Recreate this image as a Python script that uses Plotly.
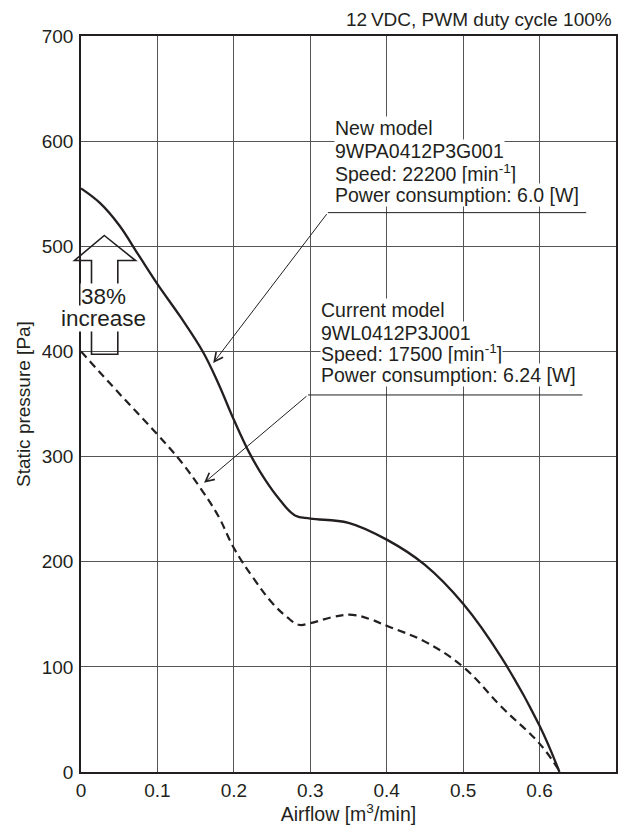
import plotly.graph_objects as go

# ---- data ----
airflow_new = [0, 0.025, 0.05, 0.075, 0.1, 0.13, 0.16, 0.18, 0.2, 0.22, 0.24, 0.26, 0.28, 0.3,
               0.35, 0.4, 0.45, 0.5, 0.55, 0.6, 0.626]
pressure_new = [555, 541, 520, 492, 464, 433, 399, 369, 335, 304, 279, 259, 244, 241,
                237, 221, 197, 160, 109, 44, 0]

airflow_cur = [0, 0.05, 0.1, 0.13, 0.16, 0.18, 0.2, 0.225, 0.25, 0.27, 0.285, 0.3, 0.33, 0.355, 0.38,
               0.4, 0.45, 0.5, 0.55, 0.6, 0.627]
pressure_cur = [400, 360, 321, 296, 266, 243, 213, 185, 161, 147, 140, 141.5, 147.5, 149.5, 145,
                139, 124, 100, 62, 27, 0]

x_ticks = [0, 0.1, 0.2, 0.3, 0.4, 0.5, 0.6, 0.7]
x_ticklabels = ["0", "0.1", "0.2", "0.3", "0.4", "0.5", "0.6", "0.7"]
y_ticks = [0, 100, 200, 300, 400, 500, 600, 700]

new_lines = ["New model", "9WPA0412P3G001", "Speed: 22200 [min<sup>-1</sup>]", "Power consumption: 6.0 [W]"]
cur_lines = ["Current model", "9WL0412P3J001", "Speed: 17500 [min<sup>-1</sup>]", "Power consumption: 6.24 [W]"]

INK = "#231f20"
FONT = "Liberation Sans, Arial, Helvetica, sans-serif"

W, H = 629, 827
ML, MR, MT, MB = 81, 13, 36, 55
PW, PH = W - ML - MR, H - MT - MB


def px2paper(px, py):
    return (px - ML) / PW, (H - MB - py) / PH


fig = go.Figure()
fig.add_trace(go.Scatter(x=airflow_cur, y=pressure_cur, mode="lines",
                         line=dict(color=INK, width=2.2, dash="8px,5px", shape="spline", smoothing=1.1),
                         showlegend=False, hoverinfo="skip"))
fig.add_trace(go.Scatter(x=airflow_new, y=pressure_new, mode="lines",
                         line=dict(color=INK, width=2.3, shape="spline", smoothing=1.1),
                         showlegend=False, hoverinfo="skip"))

annotations = []
shapes = []

# top condition text
annotations.append(dict(text="12\u2009VDC, PWM duty cycle 100%", x=1, y=1, xref="paper", yref="paper",
                        xanchor="right", yanchor="bottom", yshift=4, xshift=-2, showarrow=False,
                        font=dict(size=19, color=INK, family=FONT)))

# model info texts (each line its own white box)
new_y = [612.5, 591, 569.5, 548.5]
for t, yy in zip(new_lines, new_y):
    annotations.append(dict(text=t, x=0.331, y=yy, xref="x", yref="y", xanchor="left", yanchor="middle",
                            showarrow=False, bgcolor="white", borderpad=0,
                            font=dict(size=19.5, color=INK, family=FONT)))
cur_y = [439.4, 417.8, 398.5, 377.6]
for t, yy in zip(cur_lines, cur_y):
    annotations.append(dict(text=t, x=0.3125, y=yy, xref="x", yref="y", xanchor="left", yanchor="middle",
                            showarrow=False, bgcolor="white", borderpad=0,
                            font=dict(size=19.5, color=INK, family=FONT)))

# leader lines
shapes.append(dict(type="line", x0=0.323, y0=532, x1=0.661, y1=532, xref="x", yref="y",
                   line=dict(color=INK, width=1)))
shapes.append(dict(type="line", x0=0.297, y0=358.6, x1=0.656, y1=358.6, xref="x", yref="y",
                   line=dict(color=INK, width=1)))
annotations.append(dict(text="", x=0.173, y=389, ax=0.323, ay=532, xref="x", yref="y", axref="x", ayref="y",
                        showarrow=True, arrowhead=5, arrowsize=1.7, arrowwidth=1, arrowcolor=INK,
                        standoff=0, startstandoff=0))
annotations.append(dict(text="", x=0.161, y=275, ax=0.297, ay=358.6, xref="x", yref="y", axref="x", ayref="y",
                        showarrow=True, arrowhead=5, arrowsize=1.7, arrowwidth=1, arrowcolor=INK,
                        standoff=0, startstandoff=0))

# hollow "increase" arrow
pts = [(104.3, 235.5), (135.5, 260.5), (117.8, 260.5), (117.8, 354.3), (91.5, 354.3), (91.5, 260.5), (74.5, 260.5)]
pp = [px2paper(a, b) for a, b in pts]
path = "M " + " L ".join(f"{a:.5f},{b:.5f}" for a, b in pp) + " Z"
shapes.append(dict(type="path", path=path, xref="paper", yref="paper", layer="above",
                   line=dict(color=INK, width=1.6), fillcolor="rgba(0,0,0,0)"))
for t, py in [("38%", 296.5), ("increase", 318.5)]:
    xx, yy = px2paper(103, py)
    annotations.append(dict(text=t, x=xx, y=yy, xref="paper", yref="paper", xanchor="center", yanchor="middle",
                            showarrow=False, bgcolor="white", borderpad=0,
                            font=dict(size=22.5, color=INK, family=FONT)))

fig.update_layout(
    width=W, height=H,
    margin=dict(l=ML, r=MR, t=MT, b=MB, pad=0),
    paper_bgcolor="white", plot_bgcolor="white",
    font=dict(family=FONT, color=INK, size=19),
    annotations=annotations, shapes=shapes,
    xaxis=dict(range=[0, 0.7], tickvals=x_ticks, ticktext=x_ticklabels, showgrid=True, automargin=False,
               gridcolor="#555555", gridwidth=1, showline=True, linecolor=INK, linewidth=1.5, mirror=True,
               ticks="", zeroline=False, tickfont=dict(size=19, color=INK),
               title=dict(text="Airflow [m<sup>3</sup>/min]", font=dict(size=19.5, color=INK), standoff=6)),
    yaxis=dict(range=[0, 700], tickvals=y_ticks, showgrid=True, automargin=False,
               gridcolor="#555555", gridwidth=1, showline=True, linecolor=INK, linewidth=1.5, mirror=True,
               ticks="", zeroline=False, tickfont=dict(size=19, color=INK), ticklabelstandoff=2,
               title=dict(text="Static pressure [Pa]", font=dict(size=19, color=INK), standoff=6)),
)

fig.write_html("out.html", config={"displayModeBar": False},
               post_script="document.body.style.margin='0px';document.body.style.overflow='hidden';")
